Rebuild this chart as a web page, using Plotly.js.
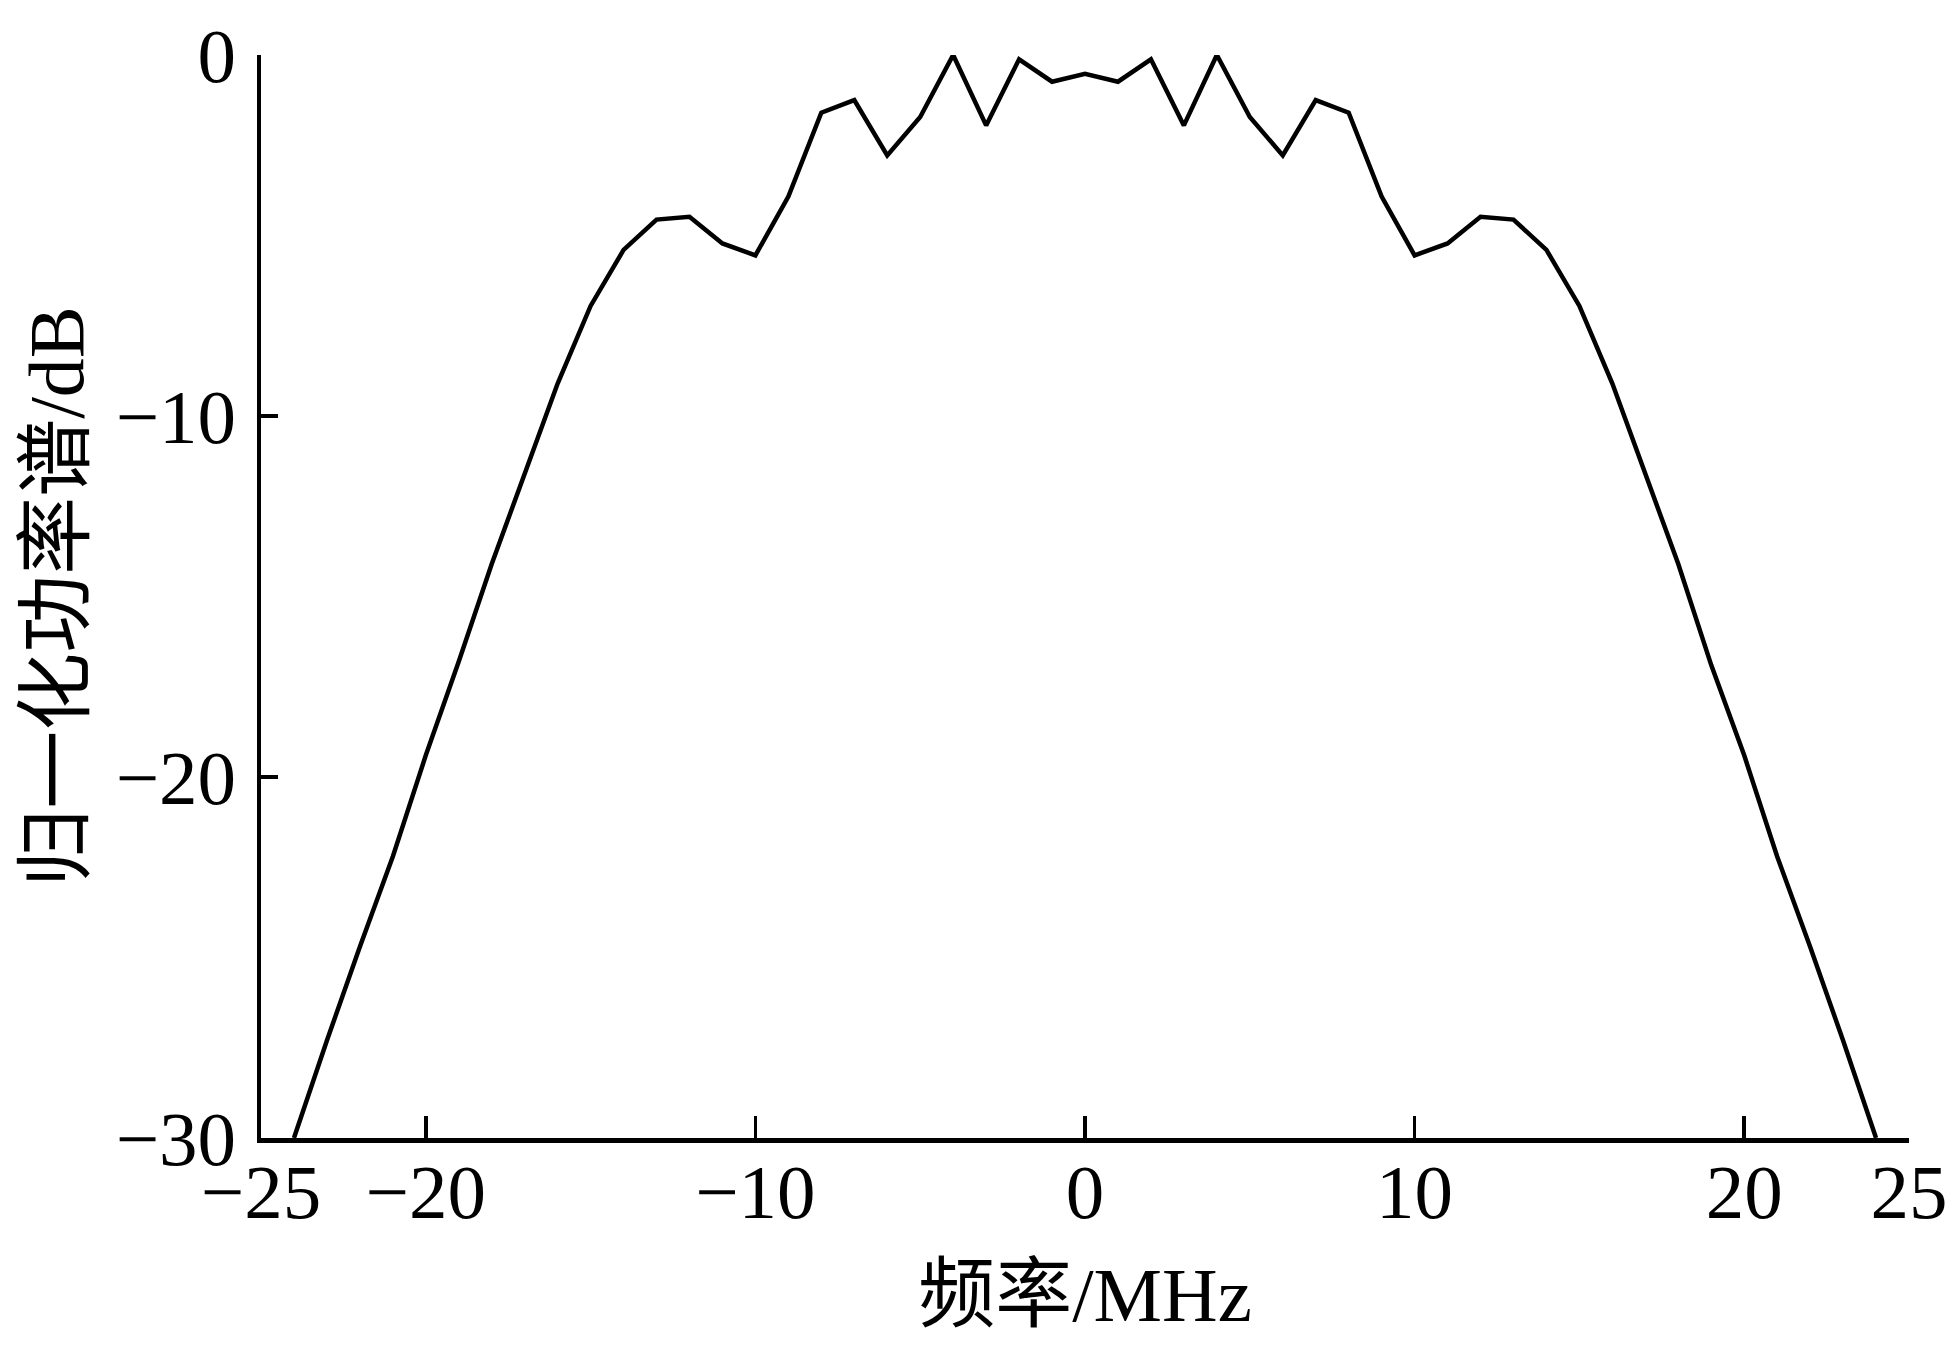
<!DOCTYPE html>
<html>
<head>
<meta charset="utf-8">
<script src="https://cdn.plot.ly/plotly-3.0.1.min.js"></script>
<style>
  html, body { margin: 0; padding: 0; background: #fff; }
  #chart { width: 1948px; height: 1345px; }
</style>
</head>
<body>
<div id="chart"></div>
<script>
// Frequency (MHz)
const freqMHz = [-24,-23,-22,-21,-20,-19,-18,-17,-16,-15,-14,-13,-12,-11,-10,-9,-8,-7,-6,-5,-4,-3,-2,-1,
                 0,1,2,3,4,5,6,7,8,9,10,11,12,13,14,15,16,17,18,19,20,21,22,23,24];
// Normalized power spectrum (dB)
const powerDB = [-30,-27.3,-24.7,-22.2,-19.4,-16.8,-14.1,-11.6,-9.1,-6.95,-5.4,-4.56,-4.48,-5.22,-5.55,-3.92,-1.6,-1.25,-2.78,-1.72,0,-1.95,-0.12,-0.74,
                 -0.52,-0.74,-0.12,-1.95,0,-1.72,-2.78,-1.25,-1.6,-3.92,-5.55,-5.22,-4.48,-4.56,-5.4,-6.95,-9.1,-11.6,-14.1,-16.9,-19.4,-22.2,-24.7,-27.3,-30];

const xTickVals = [-25,-20,-10,0,10,20,25];
const yTickVals = [-30,-20,-10,0];
const xTitle = '频率/MHz';
const yTitle = '归一化功率谱/dB';

const fontFam = '"Liberation Serif", "Times New Roman", "Noto Sans CJK SC", serif';

const trace = {
  x: freqMHz,
  y: powerDB,
  type: 'scatter',
  mode: 'lines',
  line: { color: '#000000', width: 4.5 },
  hoverinfo: 'skip',
  cliponaxis: false
};

const layout = {
  width: 1948,
  height: 1345,
  margin: { l: 261, r: 39, t: 55, b: 207 },
  paper_bgcolor: '#ffffff',
  plot_bgcolor: '#ffffff',
  showlegend: false,
  font: { family: fontFam, color: '#000000', size: 77 },
  xaxis: {
    range: [-25, 25],
    tickvals: xTickVals,
    ticks: 'inside',
    ticklen: 22,
    tickwidth: 3.5,
    tickcolor: '#000',
    showline: true,
    linecolor: '#000',
    linewidth: 4.5,
    showgrid: false,
    zeroline: false,
    ticklabelstandoff: -17,
    tickfont: { family: fontFam, size: 77, color: '#000' },
    title: { text: xTitle, font: { family: fontFam, size: 77, color: '#000' }, standoff: 34 },
    automargin: false
  },
  yaxis: {
    range: [-30, 0],
    tickvals: yTickVals,
    ticks: 'inside',
    ticklen: 17,
    tickwidth: 3.5,
    tickcolor: '#000',
    showline: true,
    linecolor: '#000',
    linewidth: 4.5,
    showgrid: false,
    zeroline: false,
    ticklabelstandoff: 5,
    tickfont: { family: fontFam, size: 77, color: '#000' },
    title: { text: yTitle, font: { family: fontFam, size: 78, color: '#000' }, standoff: 8 },
    automargin: false
  }
};

Plotly.newPlot('chart', [trace], layout, { staticPlot: true, displayModeBar: false });
</script>
</body>
</html>
